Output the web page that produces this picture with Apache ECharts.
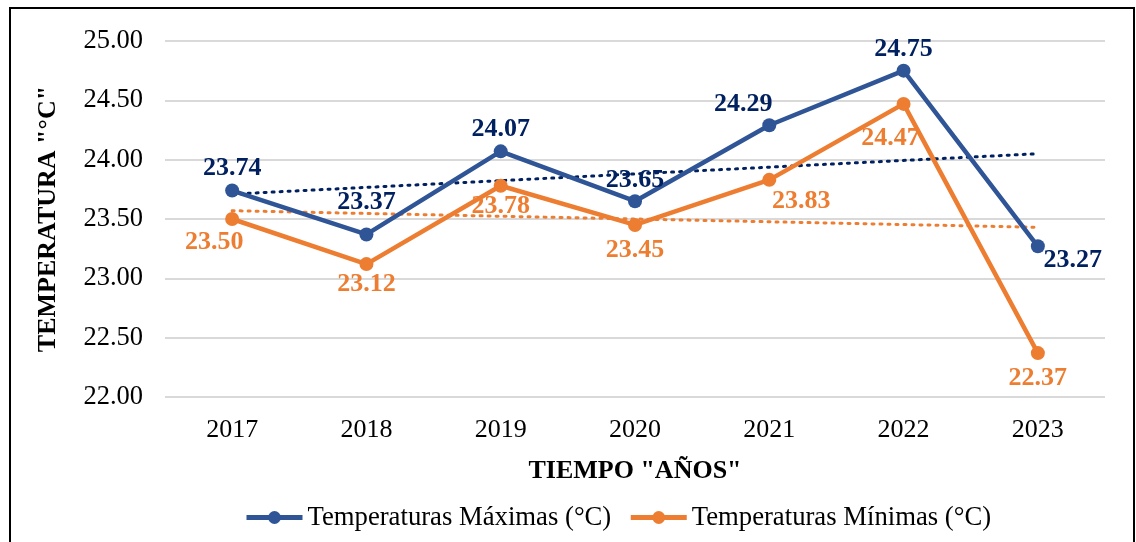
<!DOCTYPE html>
<html lang="es">
<head>
    <meta charset="UTF-8">
    <title>Temperaturas</title>
    <style>
        html, body { margin: 0; padding: 0; background: #fff; }
    </style>
</head>
<body>
<div id="main" style="width: 1136px;height:542px;"></div>
<script type="text/javascript" src="https://cdn.jsdelivr.net/npm/echarts@6/dist/echarts.min.js"></script>
<script>
    // datos
    var years = ['2017', '2018', '2019', '2020', '2021', '2022', '2023'];
    var tempMax = [23.74, 23.37, 24.07, 23.65, 24.29, 24.75, 23.27];
    var tempMin = [23.50, 23.12, 23.78, 23.45, 23.83, 24.47, 22.37];
    // lineas de tendencia (extremos 2017 y 2023)
    var trendMax = [23.71, 24.05];
    var trendMin = [23.57, 23.43];

    var serif = '"Liberation Serif", "Times New Roman", serif';
    var blue = '#2F5597', navy = '#002060', orange = '#ED7D31';

    // posicion de cada etiqueta (offset x, y)
    var maxOffsets = [[0, 3], [0, -7], [0, 3], [0, 4], [-26, 4], [0, 4], [35, 39]];
    var minOffsets = [[-18, -2], [0, -5], [0, -4], [0, 0], [32, -4], [-13, 9], [0, 0]];

    function trendData(ends) {
        var arr = years.map(function () { return null; });
        arr[0] = ends[0];
        arr[arr.length - 1] = ends[1];
        return arr;
    }

    function withLabels(values, offsets, pos, color) {
        return values.map(function (v, i) {
            return {
                value: v,
                label: {
                    show: true,
                    position: pos,
                    offset: offsets[i],
                    color: color,
                    fontFamily: serif,
                    fontWeight: 'bold',
                    fontSize: 26,
                    formatter: function (p) { return p.value.toFixed(2); }
                }
            };
        });
    }

    var myChart = echarts.init(document.getElementById('main'));

    var option = {
        animation: false,
        graphic: [{
            type: 'rect',
            shape: { x: 10, y: 8, width: 1124, height: 560 },
            style: { fill: null, stroke: '#000', lineWidth: 2 },
            silent: true
        }],
        legend: {
            bottom: 6,
            left: 239,
            itemWidth: 56,
            itemHeight: 16,
            itemGap: 17,
            lineStyle: { width: 5 },
            textStyle: { fontFamily: serif, fontSize: 26.7, color: '#000' },
            data: ['Temperaturas Máximas (°C)', 'Temperaturas Mínimas (°C)']
        },
        grid: {
            left: 165,
            right: 31,
            top: 41,
            bottom: 145
        },
        xAxis: {
            type: 'category',
            data: years,
            boundaryGap: true,
            axisLine: { show: false },
            axisTick: { show: false },
            axisLabel: { fontFamily: serif, fontSize: 26, color: '#000', margin: 20 },
            name: 'TIEMPO "AÑOS"',
            nameLocation: 'middle',
            nameGap: 61,
            nameTextStyle: { fontFamily: serif, fontSize: 26, fontWeight: 'bold', color: '#000' }
        },
        yAxis: {
            type: 'value',
            min: 22,
            max: 25,
            interval: 0.5,
            axisLine: { show: false },
            axisTick: { show: false },
            axisLabel: {
                fontFamily: serif, fontSize: 26.5, color: '#000', margin: 22,
                formatter: function (v) { return v.toFixed(2); }
            },
            splitLine: { lineStyle: { color: '#D9D9D9', width: 2 } },
            name: 'TEMPERATURA "°C"',
            nameLocation: 'middle',
            nameGap: 104,
            nameTextStyle: { fontFamily: serif, fontSize: 26, fontWeight: 'bold', color: '#000' }
        },
        series: [
            {
                name: 'trendMax',
                type: 'line',
                data: trendData(trendMax),
                connectNulls: true,
                symbol: 'none',
                lineStyle: { color: navy, width: 3, type: [2, 6], cap: 'round' },
                z: 1
            },
            {
                name: 'trendMin',
                type: 'line',
                data: trendData(trendMin),
                connectNulls: true,
                symbol: 'none',
                lineStyle: { color: orange, width: 3, type: [2, 6], cap: 'round' },
                z: 1
            },
            {
                name: 'Temperaturas Mínimas (°C)',
                type: 'line',
                data: withLabels(tempMin, minOffsets, 'bottom', orange),
                symbol: 'circle',
                symbolSize: 14,
                itemStyle: { color: orange },
                lineStyle: { color: orange, width: 4.5 },
                z: 2
            },
            {
                name: 'Temperaturas Máximas (°C)',
                type: 'line',
                data: withLabels(tempMax, maxOffsets, 'top', navy),
                symbol: 'circle',
                symbolSize: 14,
                itemStyle: { color: blue },
                lineStyle: { color: blue, width: 4.5 },
                z: 3
            }
        ]
    };

    myChart.setOption(option);
</script>
</body>
</html>
